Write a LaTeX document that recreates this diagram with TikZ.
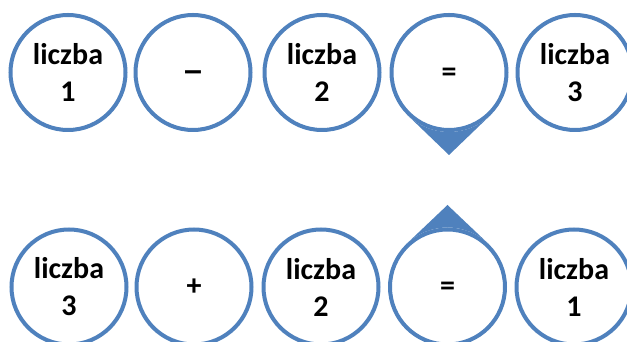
\documentclass[tikz,border=0pt]{standalone}
\usepackage{fontspec}
\usepackage{graphicx}
\setmainfont{Carlito}
\usetikzlibrary{calc}
\definecolor{ringblue}{HTML}{4F81BD}
\tikzset{
  ring/.style={circle, draw=ringblue, line width=4pt, fill=white, minimum size=115pt, inner sep=0pt,
    align=center, font=\fontsize{30}{37}\selectfont\bfseries},
  sym/.style={inner sep=0pt, font=\fontsize{30}{37}\selectfont\bfseries},
}
\begin{document}
\begin{tikzpicture}[x=1pt,y=1pt]
\useasboundingbox (0,0) rectangle (627,342);
% centres
\coordinate (t1) at (68,269.5);
\coordinate (t2) at (193,269.5);
\coordinate (t3) at (322,269.5);
\coordinate (t4) at (449,269.5);
\coordinate (t5) at (575,269.5);
\coordinate (b1) at (69,55);
\coordinate (b2) at (194,55);
\coordinate (b3) at (321,55);
\coordinate (b4) at (447.5,55);
\coordinate (b5) at (574,55);
\coordinate (tipT) at (449,187);
\coordinate (tipB) at (447.5,137);
% pointers
\fill[ringblue] (tipT) -- ($(t4)+(-134.5:59.5)$) arc[start angle=-134.5, end angle=-45.5, radius=59.5] -- cycle;
\fill[ringblue] (tipB) -- ($(b4)+(134.5:59.5)$) arc[start angle=134.5, end angle=45.5, radius=59.5] -- cycle;
% top row
\node[ring] (n1) at (t1) {liczba\\1};
\node[ring] (n2) at (t2) {};
\node[sym, yshift=-4pt] (s2) at (n2) {\scalebox{1.5}[1.2]{–}};
\node[ring] (n3) at (t3) {liczba\\2};
\node[ring] (n4) at (t4) {};
\node[sym, yshift=-2pt] (s4) at (n4) {=};
\node[ring] (n5) at (t5) {liczba\\3};
% bottom row
\node[ring] (m1) at (b1) {liczba\\3};
\node[ring] (m2) at (b2) {+};
\node[ring] (m3) at (b3) {liczba\\2};
\node[ring] (m4) at (b4) {};
\node[sym, yshift=-2pt] (r4) at (m4) {=};
\node[ring] (m5) at (b5) {liczba\\1};
\end{tikzpicture}
\end{document}
